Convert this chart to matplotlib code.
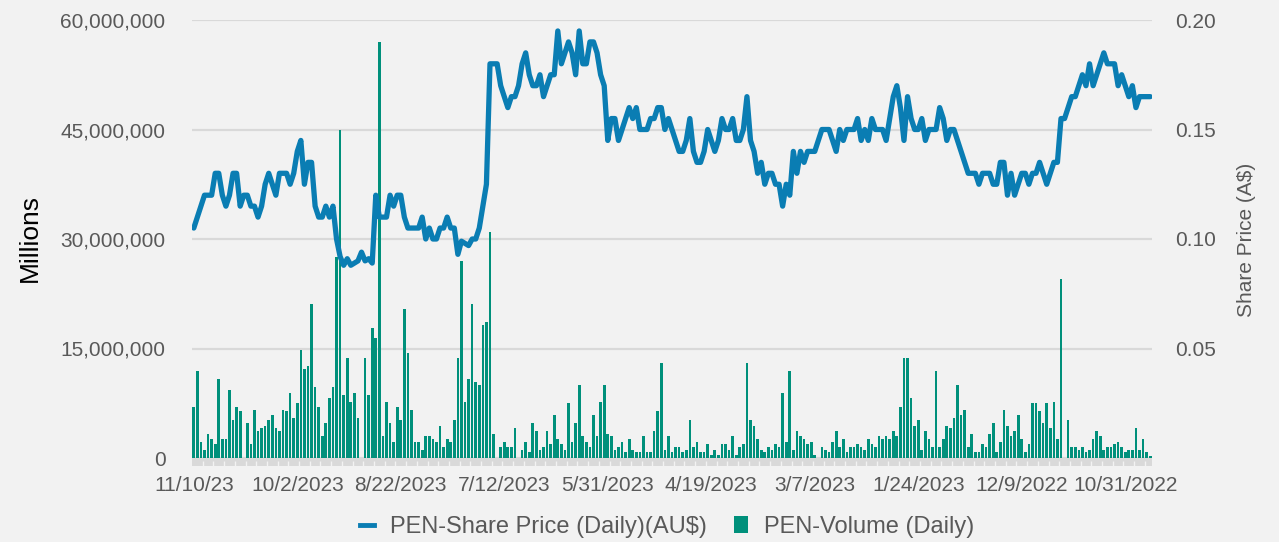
import numpy as np
import matplotlib
matplotlib.use('Agg')
import matplotlib.pyplot as plt
from matplotlib.patches import Rectangle, Patch
from matplotlib.lines import Line2D
from matplotlib.ticker import FuncFormatter

plt.rcParams['font.family'] = ['Liberation Sans', 'DejaVu Sans']

# share price, A$ (newest first, as on the chart)
price = [
    0.105, 0.110, 0.115, 0.120, 0.120, 0.120, 0.130, 0.130, 0.120, 0.115,
    0.120, 0.130, 0.130, 0.115, 0.120, 0.120, 0.115, 0.115, 0.110, 0.115,
    0.125, 0.130, 0.125, 0.120, 0.130, 0.130, 0.130, 0.125, 0.130, 0.140,
    0.145, 0.125, 0.135, 0.135, 0.115, 0.110, 0.110, 0.115, 0.110, 0.115,
    0.100, 0.092, 0.088, 0.091, 0.088, 0.089, 0.090, 0.094, 0.090, 0.091,
    0.089, 0.120, 0.110, 0.110, 0.110, 0.120, 0.115, 0.120, 0.120, 0.110,
    0.105, 0.105, 0.105, 0.105, 0.110, 0.100, 0.105, 0.100, 0.100, 0.105,
    0.105, 0.110, 0.105, 0.105, 0.093, 0.099, 0.098, 0.097, 0.100, 0.100,
    0.105, 0.115, 0.125, 0.180, 0.180, 0.180, 0.170, 0.165, 0.160, 0.165,
    0.165, 0.170, 0.180, 0.185, 0.175, 0.170, 0.170, 0.175, 0.165, 0.170,
    0.175, 0.175, 0.195, 0.180, 0.185, 0.190, 0.185, 0.175, 0.195, 0.180,
    0.180, 0.190, 0.190, 0.185, 0.175, 0.170, 0.145, 0.155, 0.155, 0.145,
    0.150, 0.155, 0.160, 0.155, 0.160, 0.150, 0.150, 0.150, 0.155, 0.155,
    0.160, 0.160, 0.150, 0.155, 0.150, 0.145, 0.140, 0.140, 0.145, 0.155,
    0.140, 0.135, 0.135, 0.140, 0.150, 0.145, 0.140, 0.145, 0.155, 0.150,
    0.150, 0.155, 0.145, 0.145, 0.150, 0.165, 0.145, 0.140, 0.130, 0.135,
    0.125, 0.130, 0.130, 0.125, 0.125, 0.115, 0.125, 0.120, 0.140, 0.130,
    0.140, 0.135, 0.140, 0.140, 0.140, 0.145, 0.150, 0.150, 0.150, 0.145,
    0.140, 0.150, 0.145, 0.150, 0.150, 0.150, 0.155, 0.145, 0.150, 0.145,
    0.155, 0.150, 0.150, 0.150, 0.145, 0.155, 0.165, 0.170, 0.160, 0.145,
    0.165, 0.155, 0.150, 0.150, 0.155, 0.145, 0.150, 0.150, 0.150, 0.160,
    0.155, 0.145, 0.150, 0.150, 0.145, 0.140, 0.135, 0.130, 0.130, 0.130,
    0.125, 0.130, 0.130, 0.130, 0.125, 0.125, 0.135, 0.135, 0.120, 0.130,
    0.120, 0.125, 0.130, 0.130, 0.125, 0.130, 0.130, 0.135, 0.130, 0.125,
    0.130, 0.135, 0.135, 0.155, 0.155, 0.160, 0.165, 0.165, 0.170, 0.175,
    0.170, 0.180, 0.170, 0.175, 0.180, 0.185, 0.180, 0.180, 0.180, 0.170,
    0.175, 0.170, 0.165, 0.170, 0.160, 0.165, 0.165, 0.165, 0.165,
]

# daily volume, millions of shares
volume_m = [
    7.0, 11.9, 2.2, 1.1, 3.3, 2.6, 1.9, 10.8, 2.6, 2.6,
    9.3, 5.2, 7.0, 6.4, 0, 4.8, 1.9, 6.6, 3.7, 4.1,
    4.4, 5.2, 5.9, 4.1, 3.7, 6.6, 6.4, 8.9, 5.5, 7.5,
    14.8, 12.2, 12.6, 21.1, 9.7, 7.0, 3.0, 4.8, 8.2, 9.7,
    27.5, 45.0, 8.6, 13.7, 7.7, 8.9, 5.5, 0, 13.7, 8.6,
    17.8, 16.4, 57.0, 3.0, 7.7, 4.8, 2.2, 7.0, 5.2, 20.4,
    14.4, 6.6, 2.2, 2.2, 1.1, 3.0, 3.0, 2.6, 2.2, 4.4,
    1.5, 2.6, 2.2, 5.2, 13.7, 27.0, 7.7, 10.8, 21.1, 10.4,
    10.0, 18.2, 18.6, 31.0, 3.3, 0, 1.5, 2.2, 1.5, 1.5,
    4.1, 0, 1.1, 2.2, 0.8, 4.8, 3.7, 1.1, 1.5, 3.7,
    1.9, 5.9, 2.6, 1.9, 1.1, 7.5, 2.2, 4.8, 10.0, 3.0,
    2.2, 1.5, 5.9, 3.0, 7.7, 10.0, 3.3, 3.0, 1.1, 1.5,
    2.2, 0.8, 2.6, 1.1, 0.8, 0.8, 3.0, 0.8, 0.8, 3.7,
    6.4, 13.0, 1.1, 3.0, 0.8, 1.5, 1.5, 0.8, 1.1, 5.2,
    1.5, 2.2, 0.8, 0.8, 1.9, 0.4, 1.1, 0.4, 1.9, 1.9,
    1.1, 3.0, 0.4, 1.5, 1.9, 13.0, 5.2, 4.4, 2.6, 1.1,
    0.8, 1.5, 1.1, 1.9, 1.5, 8.9, 2.2, 11.9, 1.1, 3.7,
    3.0, 2.6, 1.9, 2.2, 0.4, 0, 1.5, 1.1, 0.8, 2.2,
    3.7, 1.5, 2.6, 0.8, 1.5, 1.5, 1.9, 1.5, 1.1, 2.6,
    1.9, 1.5, 3.0, 2.6, 3.0, 2.6, 3.7, 3.0, 7.0, 13.7,
    13.7, 8.2, 4.4, 5.2, 1.1, 3.7, 2.6, 1.5, 11.9, 1.5,
    2.6, 4.4, 4.1, 5.5, 10.0, 5.9, 6.6, 1.5, 3.3, 0.8,
    0.8, 1.9, 1.5, 3.3, 4.8, 0.8, 2.2, 6.6, 4.4, 3.0,
    3.7, 5.9, 2.6, 0.8, 1.9, 7.5, 7.5, 6.4, 4.8, 7.5,
    4.1, 7.7, 2.6, 24.5, 0, 5.2, 1.5, 1.5, 1.1, 1.5,
    0.8, 1.1, 2.6, 3.7, 3.0, 1.1, 1.5, 1.5, 1.9, 2.2,
    1.5, 0.8, 1.1, 1.1, 4.1, 1.1, 2.6, 0.8, 0.3,
]

date_labels = ['11/10/23', '10/2/2023', '8/22/2023', '7/12/2023', '5/31/2023',
               '4/19/2023', '3/7/2023', '1/24/2023', '12/9/2022', '10/31/2022']
label_step = 29

bg = '#F2F2F2'
grid_c = '#D9D9D9'
txt_c = '#595959'
line_c = '#0A7DB3'
bar_c = '#00907B'

n = len(price)
x = np.arange(n)
vol = np.array(volume_m) * 1e6

fig = plt.figure(figsize=(12.79, 5.42), dpi=100, facecolor=bg)
W, H = 1279, 542
ax = fig.add_axes([192 / W, 1 - 458 / H, 960 / W, 438 / H])
ax.set_facecolor(bg)

ax.bar(x, vol, width=0.75, color=bar_c, zorder=2)
ax.set_xlim(-0.5, n - 0.5)
ax.set_ylim(0, 60e6)
ax.set_yticks(np.arange(0, 60e6 + 1, 15e6))
ax.yaxis.set_major_formatter(FuncFormatter(lambda v, p: f'{v:,.0f}'))
ax.grid(axis='y', color=grid_c, lw=1.6, zorder=0)
ax.set_axisbelow(True)
for s in ax.spines.values():
    s.set_visible(False)
ax.set_xticks(np.arange(len(date_labels)) * label_step)
ax.set_xticklabels(date_labels)
ax.tick_params(axis='x', length=0, pad=13, labelsize=15, labelcolor=txt_c)
ax.tick_params(axis='y', length=0, pad=19, labelsize=15, labelcolor=txt_c)

# grey category band under the plot
trans = ax.get_xaxis_transform()
band_h = 7.5 / 438
ax.add_patch(Rectangle((-0.5, -band_h), n, band_h, transform=trans,
                       color=grid_c, lw=0, clip_on=False))
ax.vlines(np.arange(2.5, n - 1, 3), -band_h, -2.5 / 438, transform=trans,
          colors=bg, lw=1, clip_on=False)

ax2 = ax.twinx()
ax2.plot(x, price, color=line_c, lw=3.8, solid_joinstyle='round',
         solid_capstyle='round', zorder=3)
ax2.set_ylim(0, 0.2)
ax2.set_yticks([0.05, 0.10, 0.15, 0.20])
ax2.yaxis.set_major_formatter(FuncFormatter(lambda v, p: f'{v:.2f}'))
for s in ax2.spines.values():
    s.set_visible(False)
ax2.tick_params(axis='y', length=0, pad=17, labelsize=15, labelcolor=txt_c)

fig.text(30 / W, 1 - 238 / H, 'Millions', rotation=90, fontsize=19,
         color='black', ha='center', va='center')
fig.text(1247 / W, 1 - 240 / H, 'Share Price (A$)', rotation=90, fontsize=15,
         color=txt_c, ha='center', va='center')

handles = [Line2D([], [], color=line_c, lw=3.5),
           Patch(facecolor=bar_c, edgecolor='none')]
fig.legend(handles, ['PEN-Share Price (Daily)(AU$)', 'PEN-Volume (Daily)'],
           loc='center', bbox_to_anchor=(667 / W, 1 - 527 / H), ncol=2,
           frameon=False, fontsize=17, labelcolor=txt_c, handlelength=0.6,
           handleheight=0.75, handletextpad=0.68, columnspacing=1.15)

fig.savefig('out.png', dpi=100, facecolor=bg)
